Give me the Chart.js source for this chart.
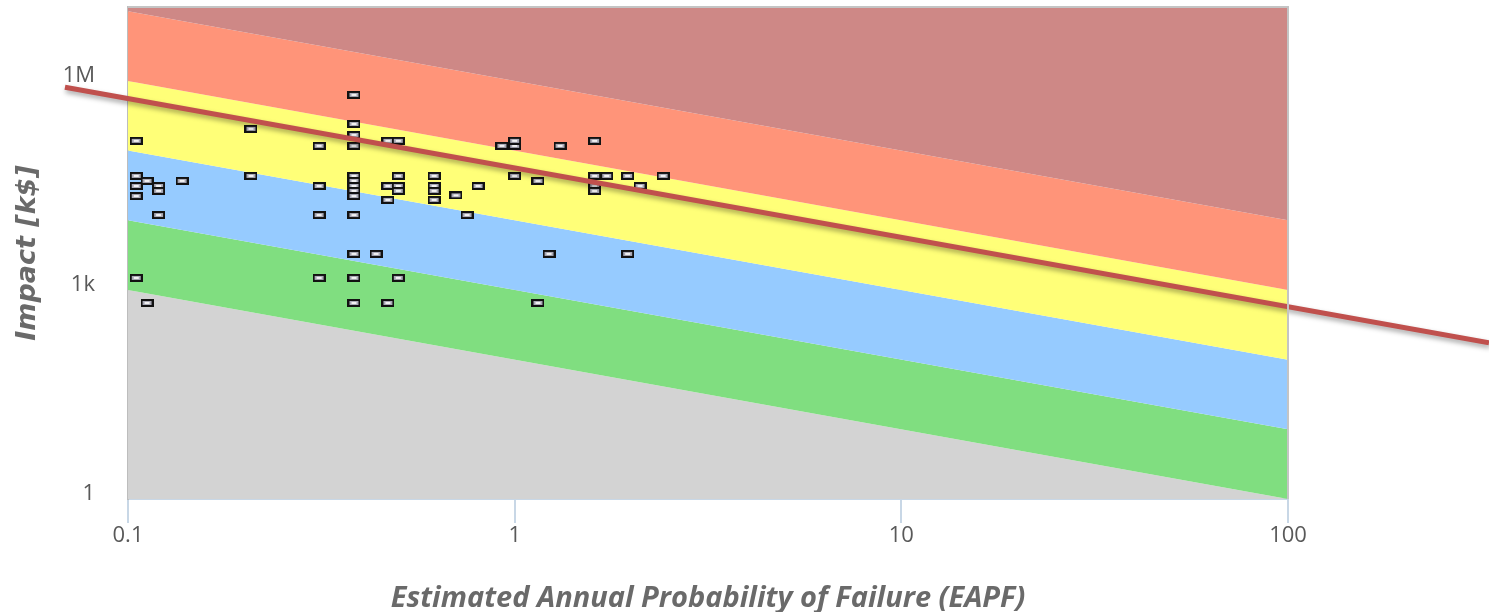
<!DOCTYPE html>
<html>
<head>
<meta charset="utf-8">
<script src="https://cdn.jsdelivr.net/npm/chart.js@4.4.1/dist/chart.umd.min.js"></script>
<style>
  html, body { margin: 0; padding: 0; background: #ffffff; }
  #wrap { width: 1489px; height: 612px; }
</style>
</head>
<body>
<div id="wrap"><canvas id="c" width="1489" height="612"></canvas></div>
<script>
// ---------- data ----------
const xTickValues = [0.1, 1, 10, 100];
const xTickLabels = ['0.1', '1', '10', '100'];
const yTickValues = [1, 1000, 1000000];
const yTickLabels = ['1', '1k', '1M'];

// risk band boundaries (impact at EAPF = 0.1 and at EAPF = 100)
const boundaryX = [0.1, 100];
const boundaryAtLeft = [1000, 10000, 100000, 1000000, 10000000];
const boundaryAtRight = [1, 10, 100, 1000, 10000];

// assets
const pointProb = [
  0.105, 0.105, 0.105, 0.105, 0.112, 0.12, 0.12, 0.138, 0.12, 0.105, 0.112,
  0.208, 0.208,
  0.312, 0.312, 0.312, 0.312,
  0.384, 0.384, 0.384, 0.384, 0.384, 0.384, 0.384, 0.384, 0.384, 0.384, 0.384, 0.384, 0.384,
  0.438, 0.47, 0.5, 0.47, 0.5, 0.5, 0.5, 0.47, 0.5, 0.47,
  0.619, 0.619, 0.619, 0.619, 0.705, 0.753, 0.804,
  0.927, 1.0, 1.0, 1.0, 1.149, 1.149, 1.227, 1.31,
  1.61, 1.61, 1.73, 1.61, 1.61, 1.96, 1.96, 2.11, 2.42
];
const pointImpact = [
  138000, 43300, 31100, 22300, 36700, 31100, 26400, 36700, 11900, 1490, 651,
  205000, 43300,
  117000, 31100, 11900, 1490,
  630000, 241000, 168000, 117000, 43300, 36700, 31100, 26400, 22300, 11900, 3290, 1490, 651,
  3290, 138000, 138000, 31100, 31100, 26400, 43300, 19600, 1490, 651,
  43300, 31100, 26400, 19600, 22800, 11900, 31100,
  117000, 117000, 138000, 43300, 36700, 651, 3290, 117000,
  138000, 43300, 43300, 31100, 26400, 43300, 3290, 31100, 43300
];

// threshold line overlay
const thresholdX = [0.0687, 331];
const thresholdY = [811000, 175];

// ---------- styles ----------
const bandColors = ['#D3D3D3', '#80DE80', '#96CBFF', '#FFFF78', '#FF9479', '#CE8886'];
const FONT = '"Open Sans", "DejaVu Sans", sans-serif';

// marker image
const mk = document.createElement('canvas');
mk.width = 13; mk.height = 8;
(function () {
  const g = mk.getContext('2d');
  g.fillStyle = '#121212'; g.fillRect(0, 0, 13, 8);
  g.fillStyle = '#a9a9b6'; g.fillRect(2, 2, 9, 4);
  g.fillStyle = '#f2f2f2'; g.fillRect(4, 3, 5, 2);
})();

// ---------- datasets ----------
const datasets = [];
for (let i = 0; i < boundaryAtLeft.length; i++) {
  datasets.push({
    type: 'line',
    data: [{ x: boundaryX[0], y: boundaryAtLeft[i] }, { x: boundaryX[1], y: boundaryAtRight[i] }],
    showLine: true,
    borderWidth: 0,
    borderColor: 'rgba(0,0,0,0)',
    pointRadius: 0,
    backgroundColor: bandColors[i],
    fill: i === 0 ? 'start' : '-1',
    order: 20 - i
  });
}
datasets.push({
  type: 'line',
  data: [{ x: boundaryX[0], y: boundaryAtLeft[4] }, { x: boundaryX[1], y: boundaryAtRight[4] }],
  showLine: true,
  borderWidth: 0,
  borderColor: 'rgba(0,0,0,0)',
  pointRadius: 0,
  backgroundColor: bandColors[5],
  fill: 'end',
  order: 14
});
datasets.push({
  type: 'scatter',
  data: pointProb.map((p, i) => ({ x: p, y: pointImpact[i] })),
  pointStyle: mk,
  pointRadius: 6,
  order: 2
});
datasets.push({
  type: 'line',
  data: [{ x: thresholdX[0], y: thresholdY[0] }, { x: thresholdX[1], y: thresholdY[1] }],
  showLine: true,
  borderColor: '#C0504D',
  borderWidth: 5,
  pointRadius: 0,
  fill: false,
  clip: false,
  order: 1,
  isThreshold: true
});

const shadowPlugin = {
  id: 'shadow',
  beforeDatasetDraw(chart, args) {
    if (args.meta._dataset && args.meta._dataset.isThreshold) {
      const ctx = chart.ctx;
      ctx.save();
      ctx.shadowColor = 'rgba(0,0,0,0.35)';
      ctx.shadowBlur = 5;
      ctx.shadowOffsetX = 1;
      ctx.shadowOffsetY = 3;
    }
  },
  afterDatasetDraw(chart, args) {
    if (args.meta._dataset && args.meta._dataset.isThreshold) chart.ctx.restore();
  }
};

const framePlugin = {
  id: 'frame',
  afterDraw(chart) {
    const { ctx, chartArea: a } = chart;
    ctx.save();
    ctx.strokeStyle = '#C4C4C4';
    ctx.lineWidth = 2;
    ctx.beginPath();
    ctx.moveTo(a.left, a.top);
    ctx.lineTo(a.right, a.top);
    ctx.lineTo(a.right, a.bottom);
    ctx.stroke();
    ctx.restore();
  }
};

new Chart(document.getElementById('c'), {
  type: 'scatter',
  data: { datasets },
  plugins: [shadowPlugin, framePlugin],
  options: {
    responsive: false,
    animation: false,
    layout: { padding: { left: 0, right: 201, top: 7, bottom: 0 } },
    plugins: { legend: { display: false }, tooltip: { enabled: false } },
    scales: {
      x: {
        type: 'logarithmic',
        min: 0.1,
        max: 100,
        afterBuildTicks: s => { s.ticks = xTickValues.map(v => ({ value: v })); },
        afterFit: s => { s.height = 113; s.paddingLeft = 0; s.paddingRight = 0; },
        ticks: {
          autoSkip: false,
          maxRotation: 0,
          padding: 0,
          color: '#595959',
          font: { family: FONT, size: 22 },
          callback: (v, i) => xTickLabels[i]
        },
        grid: { display: true, drawOnChartArea: false, drawTicks: true, tickLength: 24, color: '#C8D7E6', lineWidth: 2 },
        border: { display: true, color: '#C8D7E6', width: 2 },
        title: {
          display: true,
          text: 'Estimated Annual Probability of Failure (EAPF)',
          color: '#6a6a6a',
          font: { family: FONT, size: 29, weight: 'bold', style: 'italic' },
          padding: { top: 0, bottom: -4 }
        }
      },
      y: {
        type: 'logarithmic',
        min: 1,
        max: 11500000,
        z: 1,
        afterBuildTicks: s => { s.ticks = yTickValues.map(v => ({ value: v })); },
        afterFit: s => { s.width = 128; s.paddingTop = 0; s.paddingBottom = 0; },
        ticks: {
          autoSkip: false,
          padding: 33,
          labelOffset: -5,
          color: '#595959',
          font: { family: FONT, size: 22 },
          callback: (v, i) => yTickLabels[i]
        },
        grid: { display: true, drawOnChartArea: true, drawTicks: false, color: 'rgba(0,0,0,0.07)', lineWidth: 2 },
        border: { display: true, color: '#BDBDBD', width: 2 },
        title: {
          display: true,
          text: 'Impact [k$]',
          color: '#6a6a6a',
          font: { family: '"DejaVu Sans", sans-serif', size: 27, weight: 'bold', style: 'italic' },
          padding: { top: 12, bottom: 0 }
        }
      }
    }
  }
});
</script>
</body>
</html>
